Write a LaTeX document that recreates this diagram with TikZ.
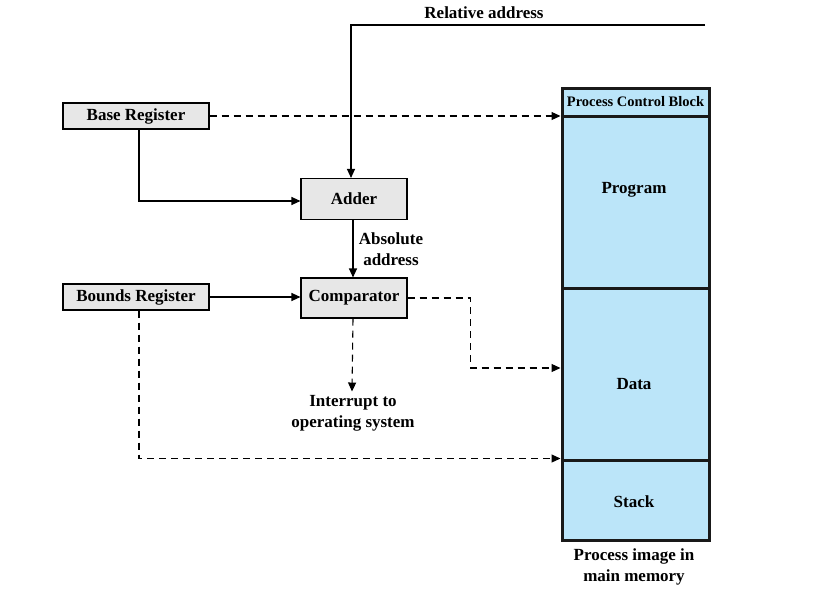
\documentclass[tikz,border=0pt]{standalone}
\usepackage{fontspec}
\setmainfont{Liberation Serif}
\usetikzlibrary{arrows.meta,positioning}
\definecolor{boxgray}{RGB}{231,231,231}
\definecolor{memblue}{RGB}{187,229,249}
\newcommand{\lblfont}{\bfseries\fontsize{17}{21}\selectfont}
\begin{document}
\begin{tikzpicture}[x=1pt, y=-1pt, >={Triangle[length=9pt,width=8pt]},
	reg/.style={draw, fill=boxgray, line width=1.1pt, inner sep=0pt, minimum width=146pt, minimum height=26pt, font=\lblfont},
	part/.style={draw=black!90, fill=memblue, line width=3pt, inner sep=0pt, minimum width=147pt},
	lbl/.style={align=center, font=\lblfont},
	wire/.style={line width=1.1pt},
	flow/.style={dashed, dash pattern=on 7pt off 5pt, line width=1.1pt}]
	\useasboundingbox (0,0) rectangle (825,600);
	
	\node[reg] (base) at (136,116) {Base Register};
	\node[reg] (bounds) at (136,297) {Bounds Register};
	\node[reg, minimum width=106pt, minimum height=41pt] (adder) at (354,199) {Adder};
	\node[reg, minimum width=106pt, minimum height=40pt] (comp) at (354,298) {Comparator};
	
	% memory image
	\node[part, minimum height=172pt] (prog) at (635.5,202) {};
	\node[part, minimum height=172pt] (data) at (635.5,374) {};
	\node[part, minimum height=80pt] (stack) at (635.5,500) {};
	\node[part, minimum height=28pt, font=\bfseries\fontsize{14.5}{16}\selectfont] (pcb) at (635.5,102) {Process Control Block};
	\node[lbl] at (634,190) {Program};
	\node[lbl] at (634,384) {Data};
	\node[lbl] at (634,502) {Stack};
	
	\node[lbl] (rel) at (484,13) {Relative address};
	\node[lbl] (intr) at (353,413) {Interrupt to\\operating system};
	\node[lbl] (cap) at (634,567) {Process image in\\main memory};
	\coordinate (relend) at (705,25);
	
	\draw[wire, ->] (relend) -| ([xshift=-3pt]adder.north);
	\draw[wire, ->] ([xshift=3pt]base.south) |- ([yshift=-2pt]adder.west);
	\draw[wire, ->] ([xshift=-1pt]adder.south) -- node[lbl, right, xshift=2pt] {Absolute\\address} ([xshift=-1pt]comp.north);
	\draw[wire, ->] (bounds.east) -- (bounds.east -| comp.west);
	\draw[flow, ->] (base.east) -- (base.east -| pcb.west);
	\draw[flow, ->] (comp.east) -- ++(63,0) |- ([yshift=6pt]data.west);
	\draw[flow, ->] ([xshift=-1pt]comp.south) -- ([xshift=-1pt]intr.north);
	\draw[flow, ->] ([xshift=3pt]bounds.south) |- (stack.north west);
\end{tikzpicture}
\end{document}
